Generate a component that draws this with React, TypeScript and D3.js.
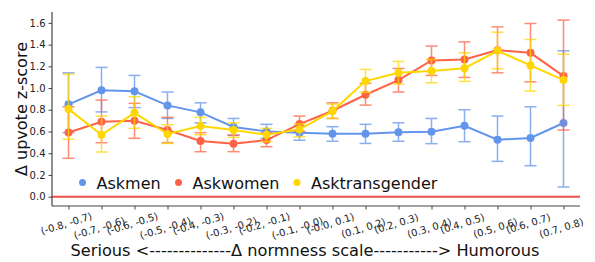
import React, { useRef, useEffect } from 'react';
import * as d3 from 'd3';

// bins of the normness scale
const categories = [
    '(-0.8, -0.7)', '(-0.7, -0.6)', '(-0.6, -0.5)', '(-0.5, -0.4)',
    '(-0.4, -0.3)', '(-0.3, -0.2)', '(-0.2, -0.1)', '(-0.1, -0.0)',
    '(-0.0, 0.1)', '(0.1, 0.2)', '(0.2, 0.3)', '(0.3, 0.4)',
    '(0.4, 0.5)', '(0.5, 0.6)', '(0.6, 0.7)', '(0.7, 0.8)',
];

const askmenMean = [0.85, 0.98, 0.97, 0.84, 0.776, 0.641, 0.601, 0.589, 0.58, 0.58, 0.592, 0.598, 0.653, 0.524, 0.54, 0.678];
const askmenLow = [0.59, 0.78, 0.82, 0.72, 0.68, 0.565, 0.537, 0.52, 0.51, 0.49, 0.51, 0.488, 0.506, 0.325, 0.285, 0.089];
const askmenHigh = [1.14, 1.19, 1.116, 0.963, 0.864, 0.72, 0.666, 0.65, 0.644, 0.666, 0.68, 0.72, 0.8, 0.742, 0.828, 1.343];

const askwomenMean = [0.59, 0.69, 0.699, 0.613, 0.512, 0.488, 0.521, 0.668, 0.791, 0.938, 1.073, 1.254, 1.263, 1.349, 1.324, 1.11];
const askwomenLow = [0.353, 0.497, 0.537, 0.497, 0.414, 0.414, 0.46, 0.6, 0.72, 0.843, 0.963, 1.116, 1.098, 1.14, 1.057, 0.613];
const askwomenHigh = [0.828, 0.889, 0.859, 0.73, 0.589, 0.567, 0.589, 0.742, 0.864, 1.043, 1.18, 1.386, 1.425, 1.563, 1.594, 1.625];

const asktransMean = [0.806, 0.57, 0.772, 0.577, 0.65, 0.613, 0.57, 0.62, 0.788, 1.064, 1.14, 1.156, 1.183, 1.343, 1.208, 1.073];
const asktransLow = [0.528, 0.411, 0.629, 0.49, 0.57, 0.546, 0.506, 0.55, 0.72, 0.96, 1.036, 1.048, 1.061, 1.177, 0.972, 0.84];
const asktransHigh = [1.128, 0.742, 0.92, 0.662, 0.73, 0.68, 0.629, 0.67, 0.852, 1.171, 1.245, 1.263, 1.324, 1.514, 1.447, 1.312];

const seriesNames = ['Askmen', 'Askwomen', 'Asktransgender'];
const seriesColors = ['#6495ED', '#FF6347', '#FFD700'];
const yTicks = [0.0, 0.2, 0.4, 0.6, 0.8, 1.0, 1.2, 1.4, 1.6];

const App: React.FC = () => {
    const svgRef = useRef<SVGSVGElement | null>(null);

    useEffect(() => {
        if (!svgRef.current) return;
        const svg = d3.select(svgRef.current);
        svg.selectAll('*').remove();

        const width = 595;
        const height = 262;
        const margin = { top: 12, right: 15, bottom: 56, left: 52 };
        const innerW = width - margin.left - margin.right;
        const innerH = height - margin.top - margin.bottom;

        const x = d3.scalePoint<string>()
            .domain(categories)
            .range([0, innerW])
            .padding(0.5);

        const y = d3.scaleLinear()
            .domain([-0.086, 1.70])
            .range([innerH, 0]);

        const g = svg.append('g')
            .attr('transform', `translate(${margin.left},${margin.top})`);

        // zero line
        g.append('line')
            .attr('x1', 0)
            .attr('x2', innerW)
            .attr('y1', y(0))
            .attr('y2', y(0))
            .attr('stroke', '#F0504A')
            .attr('stroke-width', 2);

        // y axis
        const yAxis = g.append('g')
            .call(d3.axisLeft(y).tickValues(yTicks).tickFormat(d3.format('.1f')).tickSize(3.5).tickPadding(3));
        yAxis.select('.domain').attr('stroke', '#444').attr('stroke-width', 1.2).attr('d', `M0,${innerH}V0`);
        yAxis.selectAll('.tick line').attr('stroke', '#444');
        yAxis.selectAll('text')
            .attr('fill', '#222')
            .attr('font-size', 10)
            .attr('font-family', 'DejaVu Sans');

        // x axis
        const xAxis = g.append('g')
            .attr('transform', `translate(0,${innerH})`)
            .call(d3.axisBottom(x).tickSize(3.5).tickFormat(() => ''));
        xAxis.select('.domain').attr('stroke', '#444').attr('stroke-width', 1.2).attr('d', `M0,0H${innerW}`);
        xAxis.selectAll('.tick line').attr('stroke', '#444');

        categories.forEach((c, i) => {
            const cx = x(c)!;
            const cy = innerH + (i % 2 === 0 ? 18 : 22.5);
            g.append('text')
                .attr('transform', `translate(${cx - 2},${cy}) rotate(-17)`)
                .attr('text-anchor', 'middle')
                .attr('dominant-baseline', 'middle')
                .attr('font-size', 10)
                .attr('font-family', 'DejaVu Sans')
                .attr('fill', '#222')
                .text(c);
        });

        // axis titles
        svg.append('text')
            .attr('x', 305)
            .attr('y', height - 6)
            .attr('text-anchor', 'middle')
            .attr('font-size', 16.2)
            .attr('font-family', 'DejaVu Sans')
            .attr('fill', '#111')
            .text('Serious <--------------\u0394 normness scale-----------> Humorous');

        svg.append('text')
            .attr('transform', `translate(27,${109}) rotate(-90)`)
            .attr('text-anchor', 'middle')
            .attr('font-size', 16)
            .attr('font-family', 'DejaVu Sans')
            .attr('fill', '#111')
            .text('\u0394 upvote z-score');

        const allSeries = [
            { mean: askmenMean, low: askmenLow, high: askmenHigh },
            { mean: askwomenMean, low: askwomenLow, high: askwomenHigh },
            { mean: asktransMean, low: asktransLow, high: asktransHigh },
        ];

        const line = d3.line<number>()
            .x((_, i) => x(categories[i])!)
            .y((d) => y(d));

        allSeries.forEach((s, si) => {
            const color = seriesColors[si];
            const eb = g.append('g').attr('opacity', 0.75);
            s.mean.forEach((_, i) => {
                const cx = x(categories[i])!;
                eb.append('line')
                    .attr('x1', cx).attr('x2', cx)
                    .attr('y1', y(s.low[i])).attr('y2', y(s.high[i]))
                    .attr('stroke', color).attr('stroke-width', 1.5);
                [s.low[i], s.high[i]].forEach((v) => {
                    eb.append('line')
                        .attr('x1', cx - 6).attr('x2', cx + 6)
                        .attr('y1', y(v)).attr('y2', y(v))
                        .attr('stroke', color).attr('stroke-width', 1.5);
                });
            });

            g.append('path')
                .datum(s.mean)
                .attr('fill', 'none')
                .attr('stroke', color)
                .attr('stroke-width', 2)
                .attr('d', line);

            g.selectAll(`.pt-${si}`)
                .data(s.mean)
                .enter()
                .append('circle')
                .attr('class', `pt-${si}`)
                .attr('cx', (_, i) => x(categories[i])!)
                .attr('cy', (d) => y(d))
                .attr('r', 4)
                .attr('fill', color);
        });

        // legend
        const legendX = [82.5, 178.5, 297];
        const legend = svg.append('g');
        seriesNames.forEach((name, i) => {
            legend.append('circle')
                .attr('cx', legendX[i])
                .attr('cy', 182.5)
                .attr('r', 3.5)
                .attr('fill', seriesColors[i]);
            legend.append('text')
                .attr('x', legendX[i] + 14)
                .attr('y', 188.5)
                .attr('font-size', 16)
                .attr('font-family', 'DejaVu Sans')
                .attr('fill', '#111')
                .text(name);
        });
    }, []);

    return (
        <div style={{ position: 'absolute', left: 0, top: 0, width: 595, height: 262 }}>
            <svg ref={svgRef} width={595} height={262} style={{ display: 'block', background: '#fff' }}></svg>
        </div>
    );
};

export default App;
